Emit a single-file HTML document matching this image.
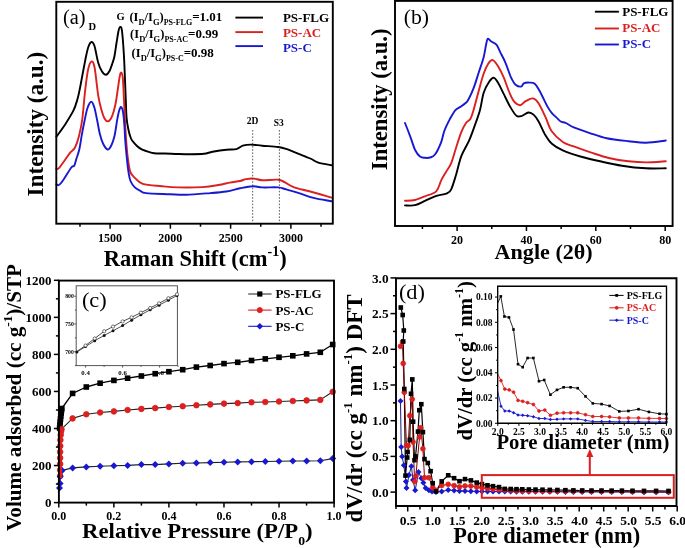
<!DOCTYPE html>
<html><head><meta charset="utf-8"><style>
html,body{margin:0;padding:0;background:#fff;width:685px;height:548px;overflow:hidden}
svg{display:block;font-family:"Liberation Serif", serif;will-change:transform}
</style></head><body>
<svg width="685" height="548" viewBox="0 0 685 548">
<rect width="685" height="548" fill="#fff"/>
<path d="M56.4,136.7 C57.8,134.8 61.9,129.4 64.8,125.0 C67.6,120.6 71.4,114.7 73.5,110.4 C75.6,106.1 76.4,102.7 77.5,99.0 C78.6,95.3 79.1,92.5 80.0,88.0 C80.9,83.5 82.0,77.2 83.0,72.0 C84.0,66.8 85.1,60.8 86.0,56.5 C86.9,52.2 87.6,48.9 88.5,46.5 C89.4,44.1 90.5,42.1 91.5,42.0 C92.5,41.9 93.4,42.5 94.5,46.0 C95.6,49.5 97.0,58.8 98.3,63.0 C99.5,67.2 100.7,69.5 102.0,71.5 C103.3,73.5 104.7,74.9 105.9,74.8 C107.2,74.7 108.4,73.0 109.5,71.0 C110.6,69.0 111.7,65.4 112.5,63.0 C113.3,60.6 113.7,59.8 114.4,56.5 C115.1,53.2 115.8,47.2 116.5,43.0 C117.2,38.8 117.9,33.7 118.5,31.0 C119.1,28.3 119.6,27.0 120.2,27.0 C120.8,27.0 121.4,26.3 122.0,31.0 C122.6,35.7 123.4,46.8 123.9,55.0 C124.4,63.2 124.7,72.5 125.0,80.0 C125.3,87.5 125.5,93.7 125.8,100.0 C126.1,106.3 126.1,113.0 126.6,118.0 C127.0,123.0 127.8,126.6 128.5,130.0 C129.2,133.4 130.1,136.4 131.0,138.5 C131.9,140.6 132.6,141.2 134.0,142.8 C135.4,144.4 137.6,146.7 139.6,148.1 C141.6,149.5 143.6,150.2 146.0,151.0 C148.4,151.8 150.9,152.8 154.1,153.2 C157.3,153.6 161.0,153.4 165.0,153.5 C169.0,153.6 173.9,153.9 178.2,154.0 C182.5,154.1 186.7,154.2 191.0,154.2 C195.3,154.2 200.4,154.2 204.0,153.8 C207.6,153.4 208.8,152.5 212.5,151.8 C216.2,151.1 222.4,150.1 226.4,149.7 C230.4,149.3 233.7,149.9 236.4,149.2 C239.1,148.5 240.4,146.5 242.8,145.7 C245.2,144.9 247.7,144.6 250.9,144.6 C254.1,144.6 257.6,145.3 262.1,145.7 C266.7,146.1 274.2,146.5 278.2,147.0 C282.2,147.5 283.0,147.8 286.2,148.9 C289.4,150.0 293.4,151.8 297.4,153.4 C301.4,155.0 306.8,157.0 310.3,158.5 C313.8,160.0 314.8,161.5 318.3,162.6 C321.8,163.7 329.3,164.8 331.5,165.2" fill="none" stroke="#000" stroke-width="1.9" stroke-linejoin="round" stroke-linecap="round" />
<path d="M56.4,168.7 C56.8,168.6 57.5,169.6 58.9,168.2 C60.3,166.8 62.8,162.9 64.8,160.2 C66.8,157.5 68.9,154.3 70.6,152.2 C72.3,150.1 73.6,150.2 75.0,147.5 C76.4,144.8 77.8,140.7 79.0,136.0 C80.2,131.3 81.3,126.9 82.3,119.2 C83.3,111.5 84.2,98.2 85.2,90.0 C86.2,81.8 87.0,74.7 88.0,70.0 C89.0,65.3 90.2,62.1 91.3,61.6 C92.4,61.1 93.3,61.3 94.5,67.0 C95.7,72.7 97.1,88.8 98.3,96.0 C99.5,103.2 100.5,106.2 101.5,110.0 C102.5,113.8 103.5,116.6 104.5,118.5 C105.5,120.4 106.7,121.4 107.8,121.4 C108.9,121.4 110.0,120.2 111.0,118.5 C112.0,116.8 113.0,113.8 113.8,111.0 C114.6,108.2 115.2,105.8 115.9,102.0 C116.6,98.2 117.3,92.3 118.0,88.0 C118.7,83.7 119.2,78.6 119.8,76.0 C120.3,73.4 120.8,72.3 121.3,72.6 C121.8,72.9 122.4,73.8 122.8,78.0 C123.2,82.2 123.5,90.2 123.9,98.0 C124.3,105.8 124.7,116.6 125.2,125.0 C125.7,133.4 126.2,142.1 126.8,148.4 C127.3,154.7 127.9,159.0 128.5,163.0 C129.1,167.0 129.4,170.0 130.5,172.5 C131.6,175.0 132.8,175.9 134.8,177.8 C136.9,179.7 138.2,182.5 142.8,183.9 C147.4,185.3 156.2,185.6 162.1,186.2 C168.0,186.8 171.5,187.2 178.2,187.4 C184.9,187.6 195.6,187.5 202.3,187.1 C209.0,186.7 213.7,185.8 218.3,185.0 C222.9,184.2 226.4,183.3 230.0,182.6 C233.6,181.9 237.3,181.6 240.0,181.0 C242.7,180.4 243.8,179.5 246.1,179.1 C248.4,178.7 251.4,178.4 254.1,178.6 C256.8,178.8 258.1,180.0 262.1,180.2 C266.1,180.4 274.4,179.4 278.2,179.7 C281.9,180.0 281.9,180.9 284.6,182.2 C287.3,183.5 289.9,185.8 294.2,187.4 C298.5,189.0 304.1,189.8 310.3,191.5 C316.5,193.2 328.0,196.6 331.5,197.6" fill="none" stroke="#dc1f1f" stroke-width="1.9" stroke-linejoin="round" stroke-linecap="round" />
<path d="M56.4,184.3 C56.8,184.4 57.8,185.7 58.9,185.0 C60.0,184.3 61.2,182.9 63.3,180.0 C65.4,177.1 69.5,169.9 71.3,167.5 C73.1,165.1 73.3,167.2 74.2,165.8 C75.1,164.4 75.5,161.6 76.4,158.8 C77.3,156.0 78.6,152.7 79.4,149.0 C80.2,145.3 80.7,141.4 81.5,136.7 C82.3,132.0 83.5,125.8 84.5,121.0 C85.5,116.2 86.4,111.2 87.5,108.0 C88.6,104.8 90.1,101.7 91.3,101.7 C92.5,101.7 93.5,104.6 94.5,108.0 C95.5,111.4 96.6,117.7 97.5,122.0 C98.4,126.3 98.9,130.2 99.8,133.8 C100.7,137.4 101.7,140.9 103.0,143.5 C104.3,146.1 106.4,149.3 107.8,149.6 C109.2,149.8 110.4,147.3 111.5,145.0 C112.6,142.7 113.5,140.3 114.5,136.0 C115.5,131.7 116.5,123.6 117.3,119.2 C118.1,114.8 118.8,111.5 119.5,109.5 C120.2,107.5 120.8,106.6 121.4,107.2 C122.0,107.8 122.7,109.7 123.2,113.0 C123.7,116.3 124.2,122.3 124.5,127.0 C124.8,131.7 124.9,135.9 125.3,141.1 C125.7,146.3 126.3,152.8 126.8,158.0 C127.3,163.2 127.9,168.2 128.5,172.0 C129.1,175.8 129.4,178.4 130.5,181.0 C131.6,183.6 133.2,185.8 134.8,187.4 C136.4,189.0 138.1,189.7 140.0,190.6 C141.9,191.5 141.1,192.5 146.1,193.1 C151.1,193.7 163.4,193.9 170.1,194.2 C176.8,194.5 179.5,194.9 186.2,194.7 C192.9,194.5 203.6,193.6 210.3,193.1 C217.0,192.6 221.5,192.3 226.4,191.5 C231.3,190.7 235.7,189.2 240.0,188.3 C244.3,187.4 248.8,186.3 252.5,186.2 C256.2,186.0 257.8,187.2 262.1,187.4 C266.4,187.6 274.2,187.1 278.2,187.4 C282.2,187.7 282.7,188.5 286.2,189.4 C289.7,190.3 294.4,191.7 299.0,193.1 C303.6,194.5 308.1,196.5 313.5,197.9 C318.9,199.3 328.5,200.7 331.5,201.3" fill="none" stroke="#1818d2" stroke-width="1.9" stroke-linejoin="round" stroke-linecap="round" />
<line x1="252.7" y1="130" x2="252.7" y2="222.5" stroke="#333" stroke-width="0.8" stroke-dasharray="1.6,1.6"/>
<line x1="279.4" y1="130" x2="279.4" y2="222.5" stroke="#333" stroke-width="0.8" stroke-dasharray="1.6,1.6"/>
<text x="252.6" y="123.6" font-size="9.5" font-weight="bold" text-anchor="middle" fill="#000" >2D</text>
<text x="278.8" y="126.4" font-size="9.5" font-weight="bold" text-anchor="middle" fill="#000" >S3</text>
<rect x="56.3" y="1.8" width="276.5" height="221.89999999999998" fill="none" stroke="#000" stroke-width="1.9"/>
<line x1="110.1" y1="223.7" x2="110.1" y2="228.7" stroke="#000" stroke-width="1.5" />
<text x="110.1" y="241.8" font-size="12" font-weight="bold" text-anchor="middle" fill="#000" >1500</text>
<line x1="170.365" y1="223.7" x2="170.365" y2="228.7" stroke="#000" stroke-width="1.5" />
<text x="170.365" y="241.8" font-size="12" font-weight="bold" text-anchor="middle" fill="#000" >2000</text>
<line x1="230.63" y1="223.7" x2="230.63" y2="228.7" stroke="#000" stroke-width="1.5" />
<text x="230.63" y="241.8" font-size="12" font-weight="bold" text-anchor="middle" fill="#000" >2500</text>
<line x1="290.895" y1="223.7" x2="290.895" y2="228.7" stroke="#000" stroke-width="1.5" />
<text x="290.895" y="241.8" font-size="12" font-weight="bold" text-anchor="middle" fill="#000" >3000</text>
<line x1="79.9675" y1="223.7" x2="79.9675" y2="226.7" stroke="#000" stroke-width="1.5" />
<line x1="140.2325" y1="223.7" x2="140.2325" y2="226.7" stroke="#000" stroke-width="1.5" />
<line x1="200.4975" y1="223.7" x2="200.4975" y2="226.7" stroke="#000" stroke-width="1.5" />
<line x1="260.7625" y1="223.7" x2="260.7625" y2="226.7" stroke="#000" stroke-width="1.5" />
<line x1="321.02750000000003" y1="223.7" x2="321.02750000000003" y2="226.7" stroke="#000" stroke-width="1.5" />
<text x="103.8" y="266" font-size="22.4" font-weight="bold" textLength="183" lengthAdjust="spacingAndGlyphs">Raman Shift (cm<tspan font-size="14" dy="-10">-1</tspan><tspan dy="10">)</tspan></text>
<text transform="translate(42.9,196.4) rotate(-90)" font-size="23" font-weight="bold" textLength="144.6" lengthAdjust="spacingAndGlyphs">Intensity (a.u.)</text>
<text x="63.0" y="23.8" font-size="20.5" font-weight="normal" text-anchor="start" fill="#000" textLength="22.6" lengthAdjust="spacingAndGlyphs" >(a)</text>
<text x="88.5" y="29.8" font-size="10.5" font-weight="bold" text-anchor="start" fill="#000" >D</text>
<text x="116.4" y="20.3" font-size="10.5" font-weight="bold" text-anchor="start" fill="#000" >G</text>
<text x="129.4" y="21" font-size="12.5" font-weight="bold">(I<tspan font-size="8.5" dy="3.5">D</tspan><tspan dy="-3.5">/I</tspan><tspan font-size="8.5" dy="3.5">G</tspan><tspan dy="-3.5">)</tspan><tspan font-size="8" dy="4">PS-FLG</tspan><tspan dy="-4" font-size="13">=1.01</tspan></text>
<text x="130.1" y="38.3" font-size="12.5" font-weight="bold">(I<tspan font-size="8.5" dy="3.5">D</tspan><tspan dy="-3.5">/I</tspan><tspan font-size="8.5" dy="3.5">G</tspan><tspan dy="-3.5">)</tspan><tspan font-size="8" dy="4">PS-AC</tspan><tspan dy="-4" font-size="13">=0.99</tspan></text>
<text x="131.6" y="57.3" font-size="12.5" font-weight="bold">(I<tspan font-size="8.5" dy="3.5">D</tspan><tspan dy="-3.5">/I</tspan><tspan font-size="8.5" dy="3.5">G</tspan><tspan dy="-3.5">)</tspan><tspan font-size="8" dy="4">PS-C</tspan><tspan dy="-4" font-size="13">=0.98</tspan></text>
<line x1="235.4" y1="17.6" x2="263" y2="17.6" stroke="#000" stroke-width="1.9" />
<text x="282.9" y="21.9" font-size="13" font-weight="bold" text-anchor="start" fill="#000" >PS-FLG</text>
<line x1="235.4" y1="32.1" x2="263" y2="32.1" stroke="#dc1f1f" stroke-width="1.9" />
<text x="282.9" y="37.2" font-size="13" font-weight="bold" text-anchor="start" fill="#dc1f1f" >PS-AC</text>
<line x1="235.4" y1="46.1" x2="263" y2="46.1" stroke="#1818d2" stroke-width="1.9" />
<text x="282.9" y="51.75" font-size="13" font-weight="bold" text-anchor="start" fill="#1818d2" >PS-C</text>
<path d="M405.0,205.4 C406.7,205.4 411.7,206.0 415.0,205.2 C418.3,204.4 421.7,202.3 425.0,200.8 C428.3,199.3 431.3,197.6 435.0,196.3 C438.7,195.1 444.3,194.5 447.0,193.3 C449.7,192.1 449.7,192.4 451.2,189.3 C452.7,186.2 454.3,180.5 456.0,175.0 C457.7,169.5 459.1,162.0 461.3,156.2 C463.5,150.4 467.0,145.4 469.3,140.1 C471.6,134.8 473.5,129.1 475.3,124.1 C477.1,119.1 478.6,115.2 480.0,110.0 C481.4,104.8 482.1,97.7 483.6,93.0 C485.1,88.3 487.3,84.5 489.0,82.0 C490.7,79.5 492.2,77.6 493.7,77.8 C495.2,78.0 496.5,80.2 498.2,82.9 C499.9,85.6 501.7,90.0 503.7,93.9 C505.7,97.9 508.0,102.9 510.1,106.6 C512.2,110.2 514.5,114.3 516.5,115.8 C518.5,117.3 520.0,116.3 522.0,115.8 C524.0,115.2 526.4,112.7 528.4,112.5 C530.4,112.3 532.1,113.4 533.8,114.9 C535.5,116.4 536.7,118.2 538.6,121.5 C540.5,124.8 543.1,131.3 545.3,135.0 C547.5,138.7 549.0,141.2 551.9,143.8 C554.8,146.4 558.0,148.3 562.8,150.4 C567.5,152.5 574.2,154.7 580.4,156.5 C586.6,158.3 593.2,159.8 600.1,161.3 C607.0,162.8 614.4,164.5 622.0,165.7 C629.6,166.9 638.7,167.9 646.0,168.3 C653.3,168.7 662.5,168.3 665.8,168.3" fill="none" stroke="#000" stroke-width="1.9" stroke-linejoin="round" stroke-linecap="round" />
<path d="M405.0,200.8 C406.7,200.7 411.7,200.8 415.0,200.0 C418.3,199.2 421.5,197.8 425.0,196.3 C428.5,194.9 433.5,194.0 436.2,191.3 C438.9,188.6 439.6,183.5 441.2,180.3 C442.8,177.1 444.3,174.8 446.0,172.0 C447.7,169.2 449.5,167.2 451.2,163.2 C452.9,159.2 454.3,153.2 456.0,148.0 C457.7,142.8 459.6,136.3 461.3,132.1 C463.0,127.9 464.5,125.2 466.0,123.0 C467.5,120.8 469.1,121.1 470.3,119.0 C471.6,116.9 472.1,115.1 473.5,110.3 C474.9,105.5 477.2,96.3 478.9,90.2 C480.6,84.1 482.1,78.2 483.6,73.8 C485.2,69.4 486.7,66.1 488.2,63.8 C489.7,61.5 491.1,59.6 492.8,60.1 C494.5,60.6 496.4,63.6 498.2,66.5 C500.0,69.4 501.9,73.2 503.7,77.4 C505.5,81.7 507.5,88.0 509.2,92.0 C510.9,96.0 512.0,99.0 513.8,101.2 C515.6,103.4 518.1,105.2 520.1,105.2 C522.1,105.2 523.5,102.3 525.6,101.2 C527.7,100.1 530.8,98.1 532.9,98.4 C535.0,98.7 536.3,99.8 538.4,103.0 C540.5,106.2 543.5,112.9 545.7,117.6 C547.9,122.3 548.6,126.9 551.5,131.0 C554.4,135.1 559.1,139.4 562.8,142.0 C566.5,144.6 569.0,144.6 573.8,146.4 C578.5,148.2 585.5,150.7 591.3,152.6 C597.1,154.5 602.6,156.6 608.8,158.0 C615.0,159.4 622.3,160.6 628.5,161.3 C634.7,162.0 639.8,162.4 646.0,162.4 C652.2,162.4 662.5,161.5 665.8,161.3" fill="none" stroke="#dc1f1f" stroke-width="1.9" stroke-linejoin="round" stroke-linecap="round" />
<path d="M405.0,123.0 C405.9,125.2 408.4,131.6 410.1,136.1 C411.8,140.6 413.5,146.6 415.1,150.0 C416.8,153.4 418.3,155.2 420.0,156.5 C421.7,157.8 423.4,157.6 425.1,157.8 C426.8,158.0 428.3,158.1 430.0,157.5 C431.7,156.9 433.3,156.8 435.2,154.2 C437.1,151.6 439.7,146.0 441.2,142.1 C442.7,138.2 442.9,134.8 444.3,131.0 C445.7,127.2 447.9,122.9 449.7,119.4 C451.5,116.0 453.4,112.4 455.2,110.3 C457.0,108.2 459.1,107.7 460.7,106.6 C462.3,105.5 463.8,104.5 465.0,103.5 C466.2,102.5 466.6,102.8 468.0,100.3 C469.4,97.8 471.7,93.1 473.5,88.4 C475.3,83.7 477.2,77.2 478.9,72.0 C480.6,66.8 482.4,61.9 483.6,57.4 C484.8,52.9 485.3,48.1 486.0,45.0 C486.7,41.9 486.9,39.4 487.7,38.8 C488.5,38.2 489.6,40.3 491.0,41.3 C492.4,42.3 494.9,42.8 496.4,44.6 C497.9,46.4 498.6,48.9 500.1,51.9 C501.6,54.9 503.7,58.5 505.5,62.8 C507.3,67.0 509.3,73.8 511.0,77.4 C512.7,81.1 513.9,83.2 515.6,84.7 C517.3,86.2 519.7,86.8 521.1,86.6 C522.5,86.4 522.4,84.0 523.8,83.3 C525.2,82.6 527.5,82.5 529.3,82.6 C531.1,82.7 532.9,82.2 534.7,83.8 C536.5,85.4 538.1,88.2 540.2,92.0 C542.3,95.8 545.5,103.1 547.5,106.6 C549.5,110.1 550.4,111.3 551.9,113.1 C553.4,114.9 555.1,116.2 556.6,117.6 C558.1,119.0 559.2,120.6 560.7,121.5 C562.2,122.4 563.6,122.0 565.8,123.0 C568.0,124.0 569.9,125.8 573.8,127.4 C577.7,129.0 583.6,131.0 589.1,132.8 C594.6,134.6 600.0,136.9 606.6,138.3 C613.2,139.7 621.9,140.5 628.5,141.2 C635.1,141.9 639.8,142.8 646.0,142.7 C652.2,142.6 662.5,140.9 665.8,140.5" fill="none" stroke="#1818d2" stroke-width="1.9" stroke-linejoin="round" stroke-linecap="round" />
<rect x="395.0" y="0.9" width="277.6" height="225.1" fill="none" stroke="#000" stroke-width="1.9"/>
<line x1="457.1" y1="226.0" x2="457.1" y2="231.0" stroke="#000" stroke-width="1.5" />
<text x="457.1" y="243.6" font-size="12" font-weight="bold" text-anchor="middle" fill="#000" >20</text>
<line x1="526.46" y1="226.0" x2="526.46" y2="231.0" stroke="#000" stroke-width="1.5" />
<text x="526.46" y="243.6" font-size="12" font-weight="bold" text-anchor="middle" fill="#000" >40</text>
<line x1="595.8199999999999" y1="226.0" x2="595.8199999999999" y2="231.0" stroke="#000" stroke-width="1.5" />
<text x="595.8199999999999" y="243.6" font-size="12" font-weight="bold" text-anchor="middle" fill="#000" >60</text>
<line x1="665.1800000000001" y1="226.0" x2="665.1800000000001" y2="231.0" stroke="#000" stroke-width="1.5" />
<text x="665.1800000000001" y="243.6" font-size="12" font-weight="bold" text-anchor="middle" fill="#000" >80</text>
<line x1="422.42" y1="226.0" x2="422.42" y2="229.0" stroke="#000" stroke-width="1.5" />
<line x1="491.78" y1="226.0" x2="491.78" y2="229.0" stroke="#000" stroke-width="1.5" />
<line x1="561.14" y1="226.0" x2="561.14" y2="229.0" stroke="#000" stroke-width="1.5" />
<line x1="630.5" y1="226.0" x2="630.5" y2="229.0" stroke="#000" stroke-width="1.5" />
<text x="494.6" y="258.9" font-size="22" font-weight="bold" text-anchor="start" fill="#000" textLength="98.1" lengthAdjust="spacingAndGlyphs" >Angle (2θ)</text>
<text transform="translate(386.9,170.2) rotate(-90)" font-size="22.5" font-weight="bold" textLength="141.8" lengthAdjust="spacingAndGlyphs">Intensity (a.u.)</text>
<text x="403.8" y="24.1" font-size="20.5" font-weight="normal" text-anchor="start" fill="#000" textLength="25.3" lengthAdjust="spacingAndGlyphs" >(b)</text>
<line x1="594.9" y1="11.7" x2="618.9" y2="11.7" stroke="#000" stroke-width="1.9" />
<text x="622.2" y="15.8" font-size="13" font-weight="bold" text-anchor="start" fill="#000" >PS-FLG</text>
<line x1="594.9" y1="28.5" x2="618.9" y2="28.5" stroke="#dc1f1f" stroke-width="1.9" />
<text x="622.2" y="32.1" font-size="13" font-weight="bold" text-anchor="start" fill="#dc1f1f" >PS-AC</text>
<line x1="594.9" y1="44.5" x2="618.9" y2="44.5" stroke="#1818d2" stroke-width="1.9" />
<text x="622.2" y="48.2" font-size="13" font-weight="bold" text-anchor="start" fill="#1818d2" >PS-C</text>
<polyline points="59.6,428.0 59.9,425.0 60.2,422.0 60.5,419.0 60.8,416.0 61.2,413.0 61.5,410.5 61.8,408.5 72.6,393.4 86.3,387.0 100.1,383.2 113.9,380.4 127.6,378.2 141.4,376.0 155.2,373.7 168.9,371.7 182.7,369.7 196.4,367.1 210.2,365.5 224.0,363.6 237.7,362.3 251.5,360.5 265.3,358.9 279.0,357.3 292.8,355.8 306.6,353.9 320.3,352.3 332.7,344.5" fill="none" stroke="#000" stroke-width="1.3" stroke-linejoin="round" stroke-linecap="round" />
<polyline points="60.2,476.0 60.2,470.0 60.2,464.0 60.2,458.0 60.2,452.0 60.3,446.0 60.4,440.0 60.7,435.0 61.1,431.5 61.5,429.2 72.6,418.4 86.3,414.3 100.1,412.5 113.9,411.4 127.6,410.0 141.4,408.9 155.2,408.1 168.9,407.0 182.7,406.2 196.4,405.2 210.2,404.4 224.0,403.6 237.7,403.1 251.5,402.3 265.3,402.0 279.0,401.5 292.8,401.0 306.6,400.4 320.3,399.9 332.7,391.8" fill="none" stroke="#222" stroke-width="1.1" stroke-linejoin="round" stroke-linecap="round" />
<polyline points="59.5,487.9 60.1,483.4 60.1,476.4 62.1,470.4 72.6,467.9 86.3,466.9 100.1,466.2 113.9,465.8 127.6,465.4 141.4,464.6 155.2,464.6 168.9,463.9 182.7,463.3 196.4,463.0 210.2,462.6 224.0,462.3 237.7,461.9 251.5,461.7 265.3,461.5 279.0,461.2 292.8,461.0 306.6,461.0 320.3,460.8 332.7,458.6" fill="none" stroke="#222" stroke-width="1.1" stroke-linejoin="round" stroke-linecap="round" />
<rect x="56.8" y="425.2" width="5.6" height="5.6" fill="#000"/>
<rect x="57.1" y="422.2" width="5.6" height="5.6" fill="#000"/>
<rect x="57.4" y="419.2" width="5.6" height="5.6" fill="#000"/>
<rect x="57.7" y="416.2" width="5.6" height="5.6" fill="#000"/>
<rect x="58.0" y="413.2" width="5.6" height="5.6" fill="#000"/>
<rect x="58.4" y="410.2" width="5.6" height="5.6" fill="#000"/>
<rect x="58.7" y="407.7" width="5.6" height="5.6" fill="#000"/>
<rect x="59.0" y="405.7" width="5.6" height="5.6" fill="#000"/>
<rect x="69.8" y="390.6" width="5.6" height="5.6" fill="#000"/>
<rect x="83.5" y="384.2" width="5.6" height="5.6" fill="#000"/>
<rect x="97.3" y="380.4" width="5.6" height="5.6" fill="#000"/>
<rect x="111.1" y="377.6" width="5.6" height="5.6" fill="#000"/>
<rect x="124.8" y="375.4" width="5.6" height="5.6" fill="#000"/>
<rect x="138.6" y="373.2" width="5.6" height="5.6" fill="#000"/>
<rect x="152.4" y="370.9" width="5.6" height="5.6" fill="#000"/>
<rect x="166.1" y="368.9" width="5.6" height="5.6" fill="#000"/>
<rect x="179.9" y="366.9" width="5.6" height="5.6" fill="#000"/>
<rect x="193.6" y="364.3" width="5.6" height="5.6" fill="#000"/>
<rect x="207.4" y="362.7" width="5.6" height="5.6" fill="#000"/>
<rect x="221.2" y="360.8" width="5.6" height="5.6" fill="#000"/>
<rect x="234.9" y="359.5" width="5.6" height="5.6" fill="#000"/>
<rect x="248.7" y="357.7" width="5.6" height="5.6" fill="#000"/>
<rect x="262.5" y="356.1" width="5.6" height="5.6" fill="#000"/>
<rect x="276.2" y="354.5" width="5.6" height="5.6" fill="#000"/>
<rect x="290.0" y="353.0" width="5.6" height="5.6" fill="#000"/>
<rect x="303.8" y="351.1" width="5.6" height="5.6" fill="#000"/>
<rect x="317.5" y="349.5" width="5.6" height="5.6" fill="#000"/>
<rect x="329.9" y="341.7" width="5.6" height="5.6" fill="#000"/>
<circle cx="60.2" cy="476.0" r="2.8" fill="#dc1f1f" stroke="#dc1f1f" stroke-width="0.8"/>
<circle cx="60.2" cy="470.0" r="2.8" fill="#dc1f1f" stroke="#dc1f1f" stroke-width="0.8"/>
<circle cx="60.2" cy="464.0" r="2.8" fill="#dc1f1f" stroke="#dc1f1f" stroke-width="0.8"/>
<circle cx="60.2" cy="458.0" r="2.8" fill="#dc1f1f" stroke="#dc1f1f" stroke-width="0.8"/>
<circle cx="60.2" cy="452.0" r="2.8" fill="#dc1f1f" stroke="#dc1f1f" stroke-width="0.8"/>
<circle cx="60.3" cy="446.0" r="2.8" fill="#dc1f1f" stroke="#dc1f1f" stroke-width="0.8"/>
<circle cx="60.4" cy="440.0" r="2.8" fill="#dc1f1f" stroke="#dc1f1f" stroke-width="0.8"/>
<circle cx="60.7" cy="435.0" r="2.8" fill="#dc1f1f" stroke="#dc1f1f" stroke-width="0.8"/>
<circle cx="61.1" cy="431.5" r="2.8" fill="#dc1f1f" stroke="#dc1f1f" stroke-width="0.8"/>
<circle cx="61.5" cy="429.2" r="2.8" fill="#dc1f1f" stroke="#dc1f1f" stroke-width="0.8"/>
<circle cx="72.6" cy="418.4" r="2.8" fill="#dc1f1f" stroke="#dc1f1f" stroke-width="0.8"/>
<circle cx="86.3" cy="414.3" r="2.8" fill="#dc1f1f" stroke="#dc1f1f" stroke-width="0.8"/>
<circle cx="100.1" cy="412.5" r="2.8" fill="#dc1f1f" stroke="#dc1f1f" stroke-width="0.8"/>
<circle cx="113.9" cy="411.4" r="2.8" fill="#dc1f1f" stroke="#dc1f1f" stroke-width="0.8"/>
<circle cx="127.6" cy="410.0" r="2.8" fill="#dc1f1f" stroke="#dc1f1f" stroke-width="0.8"/>
<circle cx="141.4" cy="408.9" r="2.8" fill="#dc1f1f" stroke="#dc1f1f" stroke-width="0.8"/>
<circle cx="155.2" cy="408.1" r="2.8" fill="#dc1f1f" stroke="#dc1f1f" stroke-width="0.8"/>
<circle cx="168.9" cy="407.0" r="2.8" fill="#dc1f1f" stroke="#dc1f1f" stroke-width="0.8"/>
<circle cx="182.7" cy="406.2" r="2.8" fill="#dc1f1f" stroke="#dc1f1f" stroke-width="0.8"/>
<circle cx="196.4" cy="405.2" r="2.8" fill="#dc1f1f" stroke="#dc1f1f" stroke-width="0.8"/>
<circle cx="210.2" cy="404.4" r="2.8" fill="#dc1f1f" stroke="#dc1f1f" stroke-width="0.8"/>
<circle cx="224.0" cy="403.6" r="2.8" fill="#dc1f1f" stroke="#dc1f1f" stroke-width="0.8"/>
<circle cx="237.7" cy="403.1" r="2.8" fill="#dc1f1f" stroke="#dc1f1f" stroke-width="0.8"/>
<circle cx="251.5" cy="402.3" r="2.8" fill="#dc1f1f" stroke="#dc1f1f" stroke-width="0.8"/>
<circle cx="265.3" cy="402.0" r="2.8" fill="#dc1f1f" stroke="#dc1f1f" stroke-width="0.8"/>
<circle cx="279.0" cy="401.5" r="2.8" fill="#dc1f1f" stroke="#dc1f1f" stroke-width="0.8"/>
<circle cx="292.8" cy="401.0" r="2.8" fill="#dc1f1f" stroke="#dc1f1f" stroke-width="0.8"/>
<circle cx="306.6" cy="400.4" r="2.8" fill="#dc1f1f" stroke="#dc1f1f" stroke-width="0.8"/>
<circle cx="320.3" cy="399.9" r="2.8" fill="#dc1f1f" stroke="#dc1f1f" stroke-width="0.8"/>
<circle cx="332.7" cy="391.8" r="2.8" fill="#dc1f1f" stroke="#dc1f1f" stroke-width="0.8"/>
<path d="M59.5,484.4 L63.0,487.9 L59.5,491.4 L56.0,487.9Z" fill="#1818d2"/>
<path d="M60.1,479.9 L63.6,483.4 L60.1,486.9 L56.6,483.4Z" fill="#1818d2"/>
<path d="M60.1,472.9 L63.6,476.4 L60.1,479.9 L56.6,476.4Z" fill="#1818d2"/>
<path d="M62.1,466.9 L65.6,470.4 L62.1,473.9 L58.6,470.4Z" fill="#1818d2"/>
<path d="M72.6,464.4 L76.1,467.9 L72.6,471.4 L69.1,467.9Z" fill="#1818d2"/>
<path d="M86.3,463.4 L89.8,466.9 L86.3,470.4 L82.8,466.9Z" fill="#1818d2"/>
<path d="M100.1,462.7 L103.6,466.2 L100.1,469.7 L96.6,466.2Z" fill="#1818d2"/>
<path d="M113.9,462.3 L117.4,465.8 L113.9,469.3 L110.4,465.8Z" fill="#1818d2"/>
<path d="M127.6,461.9 L131.1,465.4 L127.6,468.9 L124.1,465.4Z" fill="#1818d2"/>
<path d="M141.4,461.1 L144.9,464.6 L141.4,468.1 L137.9,464.6Z" fill="#1818d2"/>
<path d="M155.2,461.1 L158.7,464.6 L155.2,468.1 L151.7,464.6Z" fill="#1818d2"/>
<path d="M168.9,460.4 L172.4,463.9 L168.9,467.4 L165.4,463.9Z" fill="#1818d2"/>
<path d="M182.7,459.8 L186.2,463.3 L182.7,466.8 L179.2,463.3Z" fill="#1818d2"/>
<path d="M196.4,459.5 L199.9,463.0 L196.4,466.5 L192.9,463.0Z" fill="#1818d2"/>
<path d="M210.2,459.1 L213.7,462.6 L210.2,466.1 L206.7,462.6Z" fill="#1818d2"/>
<path d="M224.0,458.8 L227.5,462.3 L224.0,465.8 L220.5,462.3Z" fill="#1818d2"/>
<path d="M237.7,458.4 L241.2,461.9 L237.7,465.4 L234.2,461.9Z" fill="#1818d2"/>
<path d="M251.5,458.2 L255.0,461.7 L251.5,465.2 L248.0,461.7Z" fill="#1818d2"/>
<path d="M265.3,458.0 L268.8,461.5 L265.3,465.0 L261.8,461.5Z" fill="#1818d2"/>
<path d="M279.0,457.7 L282.5,461.2 L279.0,464.7 L275.5,461.2Z" fill="#1818d2"/>
<path d="M292.8,457.5 L296.3,461.0 L292.8,464.5 L289.3,461.0Z" fill="#1818d2"/>
<path d="M306.6,457.5 L310.1,461.0 L306.6,464.5 L303.1,461.0Z" fill="#1818d2"/>
<path d="M320.3,457.3 L323.8,460.8 L320.3,464.3 L316.8,460.8Z" fill="#1818d2"/>
<path d="M332.7,455.1 L336.2,458.6 L332.7,462.1 L329.2,458.6Z" fill="#1818d2"/>
<line x1="60.3" y1="432" x2="60.3" y2="478" stroke="#dc1f1f" stroke-width="3.4" />
<rect x="58.9" y="280.6" width="275.1" height="222.0" fill="none" stroke="#000" stroke-width="1.9"/>
<line x1="53.9" y1="502.6" x2="58.9" y2="502.6" stroke="#000" stroke-width="1.5" />
<text x="51.5" y="507.0" font-size="13" font-weight="bold" text-anchor="end" fill="#000" >0</text>
<line x1="53.9" y1="465.55" x2="58.9" y2="465.55" stroke="#000" stroke-width="1.5" />
<text x="51.5" y="469.95" font-size="13" font-weight="bold" text-anchor="end" fill="#000" >200</text>
<line x1="53.9" y1="428.5" x2="58.9" y2="428.5" stroke="#000" stroke-width="1.5" />
<text x="51.5" y="432.9" font-size="13" font-weight="bold" text-anchor="end" fill="#000" >400</text>
<line x1="53.9" y1="391.45000000000005" x2="58.9" y2="391.45000000000005" stroke="#000" stroke-width="1.5" />
<text x="51.5" y="395.85" font-size="13" font-weight="bold" text-anchor="end" fill="#000" >600</text>
<line x1="53.9" y1="354.40000000000003" x2="58.9" y2="354.40000000000003" stroke="#000" stroke-width="1.5" />
<text x="51.5" y="358.8" font-size="13" font-weight="bold" text-anchor="end" fill="#000" >800</text>
<line x1="53.9" y1="317.35" x2="58.9" y2="317.35" stroke="#000" stroke-width="1.5" />
<text x="51.5" y="321.75" font-size="13" font-weight="bold" text-anchor="end" fill="#000" >1000</text>
<line x1="53.9" y1="280.3" x2="58.9" y2="280.3" stroke="#000" stroke-width="1.5" />
<text x="51.5" y="284.7" font-size="13" font-weight="bold" text-anchor="end" fill="#000" >1200</text>
<line x1="55.9" y1="484.07500000000005" x2="58.9" y2="484.07500000000005" stroke="#000" stroke-width="1.5" />
<line x1="55.9" y1="447.02500000000003" x2="58.9" y2="447.02500000000003" stroke="#000" stroke-width="1.5" />
<line x1="55.9" y1="409.975" x2="58.9" y2="409.975" stroke="#000" stroke-width="1.5" />
<line x1="55.9" y1="372.925" x2="58.9" y2="372.925" stroke="#000" stroke-width="1.5" />
<line x1="55.9" y1="335.875" x2="58.9" y2="335.875" stroke="#000" stroke-width="1.5" />
<line x1="55.9" y1="298.82500000000005" x2="58.9" y2="298.82500000000005" stroke="#000" stroke-width="1.5" />
<line x1="58.8" y1="502.6" x2="58.8" y2="507.6" stroke="#000" stroke-width="1.5" />
<text x="58.8" y="520.4" font-size="12" font-weight="bold" text-anchor="middle" fill="#000" >0.0</text>
<line x1="113.86" y1="502.6" x2="113.86" y2="507.6" stroke="#000" stroke-width="1.5" />
<text x="113.86" y="520.4" font-size="12" font-weight="bold" text-anchor="middle" fill="#000" >0.2</text>
<line x1="168.92000000000002" y1="502.6" x2="168.92000000000002" y2="507.6" stroke="#000" stroke-width="1.5" />
<text x="168.92000000000002" y="520.4" font-size="12" font-weight="bold" text-anchor="middle" fill="#000" >0.4</text>
<line x1="223.98000000000002" y1="502.6" x2="223.98000000000002" y2="507.6" stroke="#000" stroke-width="1.5" />
<text x="223.98000000000002" y="520.4" font-size="12" font-weight="bold" text-anchor="middle" fill="#000" >0.6</text>
<line x1="279.04" y1="502.6" x2="279.04" y2="507.6" stroke="#000" stroke-width="1.5" />
<text x="279.04" y="520.4" font-size="12" font-weight="bold" text-anchor="middle" fill="#000" >0.8</text>
<line x1="334.1" y1="502.6" x2="334.1" y2="507.6" stroke="#000" stroke-width="1.5" />
<text x="334.1" y="520.4" font-size="12" font-weight="bold" text-anchor="middle" fill="#000" >1.0</text>
<line x1="86.33" y1="502.6" x2="86.33" y2="505.6" stroke="#000" stroke-width="1.5" />
<line x1="141.39000000000001" y1="502.6" x2="141.39000000000001" y2="505.6" stroke="#000" stroke-width="1.5" />
<line x1="196.45" y1="502.6" x2="196.45" y2="505.6" stroke="#000" stroke-width="1.5" />
<line x1="251.51000000000005" y1="502.6" x2="251.51000000000005" y2="505.6" stroke="#000" stroke-width="1.5" />
<line x1="306.57" y1="502.6" x2="306.57" y2="505.6" stroke="#000" stroke-width="1.5" />
<text x="82.1" y="537.6" font-size="21.5" font-weight="bold" textLength="230.5" lengthAdjust="spacingAndGlyphs">Relative Pressure (P/P<tspan font-size="13" dy="7">0</tspan><tspan dy="-7">)</tspan></text>
<text transform="translate(20.6,531) rotate(-90)" font-size="21" font-weight="bold" textLength="267" lengthAdjust="spacingAndGlyphs">Volume adsorbed (cc g<tspan font-size="13" dy="-9">-1</tspan><tspan dy="9">)/STP</tspan></text>
<line x1="248.2" y1="294" x2="271.6" y2="294" stroke="#333" stroke-width="1.1" />
<rect x="257.2" y="291.4" width="5.2" height="5.2" fill="#000"/>
<text x="275.4" y="298.4" font-size="13" font-weight="bold" text-anchor="start" fill="#000" >PS-FLG</text>
<line x1="248.2" y1="310.1" x2="271.6" y2="310.1" stroke="#dc1f1f" stroke-width="1.1" />
<circle cx="259.8" cy="310.1" r="2.6" fill="#dc1f1f" stroke="#dc1f1f" stroke-width="0.8"/>
<text x="275.4" y="314.5" font-size="13" font-weight="bold" text-anchor="start" fill="#000" >PS-AC</text>
<line x1="248.2" y1="326.3" x2="271.6" y2="326.3" stroke="#1818d2" stroke-width="1.1" />
<path d="M259.8,323.0 L263.1,326.3 L259.8,329.6 L256.5,326.3Z" fill="#1818d2"/>
<text x="275.4" y="330.7" font-size="13" font-weight="bold" text-anchor="start" fill="#000" >PS-C</text>
<rect x="76.2" y="285.8" width="101.2" height="79.80000000000001" fill="#fff" stroke="#555" stroke-width="1"/>
<polyline points="76.9,352.0 85.5,346.6 94.7,340.8 104.2,335.4 113.0,330.8 122.6,325.6 131.6,320.2 140.9,314.8 150.2,309.8 159.1,305.2 168.4,300.2 177.0,295.5" fill="none" stroke="#222" stroke-width="0.8" stroke-linejoin="round" stroke-linecap="round" />
<polyline points="76.9,351.5 85.5,345.5 94.7,338.5 104.2,331.2 113.0,326.6 122.6,321.4 131.6,317.3 140.9,312.6 150.2,308.0 159.1,303.3 168.4,298.2 177.0,294.3" fill="none" stroke="#222" stroke-width="0.8" stroke-linejoin="round" stroke-linecap="round" />
<circle cx="76.9" cy="352" r="1.5" fill="#111"/>
<circle cx="85.5" cy="346.6" r="1.5" fill="#111"/>
<circle cx="94.7" cy="340.8" r="1.5" fill="#111"/>
<circle cx="104.2" cy="335.4" r="1.5" fill="#111"/>
<circle cx="113" cy="330.8" r="1.5" fill="#111"/>
<circle cx="122.6" cy="325.6" r="1.5" fill="#111"/>
<circle cx="131.6" cy="320.2" r="1.5" fill="#111"/>
<circle cx="140.9" cy="314.8" r="1.5" fill="#111"/>
<circle cx="150.2" cy="309.8" r="1.5" fill="#111"/>
<circle cx="159.1" cy="305.2" r="1.5" fill="#111"/>
<circle cx="168.4" cy="300.2" r="1.5" fill="#111"/>
<circle cx="177" cy="295.5" r="1.5" fill="#111"/>
<circle cx="85.5" cy="345.5" r="1.6" fill="#fff" stroke="#222" stroke-width="0.6"/>
<circle cx="94.7" cy="338.5" r="1.6" fill="#fff" stroke="#222" stroke-width="0.6"/>
<circle cx="104.2" cy="331.2" r="1.6" fill="#fff" stroke="#222" stroke-width="0.6"/>
<circle cx="113" cy="326.6" r="1.6" fill="#fff" stroke="#222" stroke-width="0.6"/>
<circle cx="122.6" cy="321.4" r="1.6" fill="#fff" stroke="#222" stroke-width="0.6"/>
<circle cx="131.6" cy="317.3" r="1.6" fill="#fff" stroke="#222" stroke-width="0.6"/>
<circle cx="140.9" cy="312.6" r="1.6" fill="#fff" stroke="#222" stroke-width="0.6"/>
<circle cx="150.2" cy="308" r="1.6" fill="#fff" stroke="#222" stroke-width="0.6"/>
<circle cx="159.1" cy="303.3" r="1.6" fill="#fff" stroke="#222" stroke-width="0.6"/>
<circle cx="168.4" cy="298.2" r="1.6" fill="#fff" stroke="#222" stroke-width="0.6"/>
<circle cx="177" cy="294.3" r="1.6" fill="#fff" stroke="#222" stroke-width="0.6"/>
<line x1="74.2" y1="351.7" x2="76.2" y2="351.7" stroke="#333" stroke-width="0.8" />
<text x="73.8" y="353.5" font-size="6" font-weight="bold" text-anchor="end" fill="#000" textLength="8.6" lengthAdjust="spacingAndGlyphs" >700</text>
<line x1="74.2" y1="323.95" x2="76.2" y2="323.95" stroke="#333" stroke-width="0.8" />
<text x="73.8" y="325.75" font-size="6" font-weight="bold" text-anchor="end" fill="#000" textLength="8.6" lengthAdjust="spacingAndGlyphs" >750</text>
<line x1="74.2" y1="296.2" x2="76.2" y2="296.2" stroke="#333" stroke-width="0.8" />
<text x="73.8" y="298.0" font-size="6" font-weight="bold" text-anchor="end" fill="#000" textLength="8.6" lengthAdjust="spacingAndGlyphs" >800</text>
<line x1="74.9" y1="365.575" x2="76.2" y2="365.575" stroke="#333" stroke-width="0.8" />
<line x1="74.9" y1="337.825" x2="76.2" y2="337.825" stroke="#333" stroke-width="0.8" />
<line x1="74.9" y1="310.075" x2="76.2" y2="310.075" stroke="#333" stroke-width="0.8" />
<line x1="85.6" y1="365.6" x2="85.6" y2="367.6" stroke="#333" stroke-width="0.8" />
<text x="85.6" y="374.6" font-size="6" font-weight="bold" text-anchor="middle" fill="#000" textLength="8.5" lengthAdjust="spacingAndGlyphs" >0.4</text>
<line x1="122.6" y1="365.6" x2="122.6" y2="367.6" stroke="#333" stroke-width="0.8" />
<text x="122.6" y="374.6" font-size="6" font-weight="bold" text-anchor="middle" fill="#000" textLength="8.5" lengthAdjust="spacingAndGlyphs" >0.6</text>
<line x1="159.6" y1="365.6" x2="159.6" y2="367.6" stroke="#333" stroke-width="0.8" />
<text x="159.6" y="374.6" font-size="6" font-weight="bold" text-anchor="middle" fill="#000" textLength="8.5" lengthAdjust="spacingAndGlyphs" >0.8</text>
<line x1="104.1" y1="365.6" x2="104.1" y2="366.90000000000003" stroke="#333" stroke-width="0.8" />
<line x1="141.09999999999997" y1="365.6" x2="141.09999999999997" y2="366.90000000000003" stroke="#333" stroke-width="0.8" />
<line x1="178.1" y1="365.6" x2="178.1" y2="366.90000000000003" stroke="#333" stroke-width="0.8" />
<text x="81.9" y="306.6" font-size="20.5" font-weight="normal" text-anchor="start" fill="#000" textLength="24.8" lengthAdjust="spacingAndGlyphs" >(c)</text>
<polyline points="400.8,307.5 402.7,315.0 403.8,330.5 403.2,341.5 404.3,389.0 405.5,475.6 407.2,457.5 407.6,452.0 409.8,439.8 411.0,393.8 412.3,379.4 413.1,421.7 414.5,460.2 415.5,456.4 418.0,431.6 419.3,410.2 421.3,404.2 422.9,432.1 424.5,459.1 427.8,463.0 430.6,471.2 432.7,483.2 436.0,491.4 441.7,481.4 448.2,475.3 454.1,478.2 459.5,481.2 465.0,479.1 470.9,480.4 476.7,482.6 482.0,484.1 487.5,485.3 493.0,486.2 499.0,487.1 504.8,488.9 510.7,489.0 516.5,489.2 522.3,489.3 528.9,489.5 535.5,489.6 542.5,489.8 549.8,489.9 557.4,490.0 565.4,490.2 573.4,490.4 582.2,490.5 591.5,490.6 601.5,490.6 611.6,490.7 621.9,490.7 632.5,490.8 644.0,490.9 656.1,490.9 668.5,491.0" fill="none" stroke="#000" stroke-width="1.2" stroke-linejoin="round" stroke-linecap="round" />
<polyline points="400.5,346.3 402.5,342.0 403.2,363.5 404.3,392.3 406.5,445.5 408.1,445.8 409.8,415.7 412.2,399.2 413.0,442.0 414.7,481.6 415.8,476.1 419.6,437.0 420.7,427.7 422.9,448.8 424.5,477.7 428.9,477.7 432.7,487.6 436.0,490.3 441.7,485.5 448.2,484.3 454.1,485.6 459.5,486.9 465.0,486.0 470.9,486.0 476.7,487.0 482.0,487.8 487.5,488.6 493.0,489.2 499.0,489.6 504.8,490.0 510.7,490.4 516.5,490.8 522.3,491.0 528.9,491.0 535.5,491.1 542.5,491.1 549.8,491.2 557.4,491.2 565.4,491.2 573.4,491.3 582.2,491.3 591.5,491.4 601.5,491.4 611.6,491.5 621.9,491.5 632.5,491.6 644.0,491.7 656.1,491.7 668.5,491.8" fill="none" stroke="#8b0000" stroke-width="1.0" stroke-linejoin="round" stroke-linecap="round" />
<polyline points="400.5,401.0 401.2,447.0 402.1,456.4 403.8,465.2 405.9,481.6 406.5,488.1 409.0,475.0 411.4,466.3 413.0,480.0 415.2,490.3 418.5,472.0 421.3,478.3 423.4,482.7 425.6,488.1 428.9,490.3 432.0,491.5 436.0,492.0 441.7,491.4 448.2,490.1 454.1,490.4 459.5,490.9 465.0,491.1 470.9,491.3 476.7,491.4 482.0,491.5 487.5,491.5 493.0,491.6 499.0,491.6 504.8,491.6 510.7,491.6 516.5,491.7 522.3,491.7 528.9,491.7 535.5,491.7 542.5,491.8 549.8,491.8 557.4,491.8 565.4,491.9 573.4,491.9 582.2,491.9 591.5,492.0 601.5,492.0 611.6,492.1 621.9,492.1 632.5,492.1 644.0,492.2 656.1,492.2 668.5,492.3" fill="none" stroke="#1a1a80" stroke-width="1.0" stroke-linejoin="round" stroke-linecap="round" />
<path d="M400.5,398.0 L403.5,401.0 L400.5,404.0 L397.5,401.0Z" fill="#1818d2"/>
<path d="M401.2,444.0 L404.2,447.0 L401.2,450.0 L398.2,447.0Z" fill="#1818d2"/>
<path d="M402.1,453.4 L405.1,456.4 L402.1,459.4 L399.1,456.4Z" fill="#1818d2"/>
<path d="M403.8,462.2 L406.8,465.2 L403.8,468.2 L400.8,465.2Z" fill="#1818d2"/>
<path d="M405.9,478.6 L408.9,481.6 L405.9,484.6 L402.9,481.6Z" fill="#1818d2"/>
<path d="M406.5,485.1 L409.5,488.1 L406.5,491.1 L403.5,488.1Z" fill="#1818d2"/>
<path d="M409.0,472.0 L412.0,475.0 L409.0,478.0 L406.0,475.0Z" fill="#1818d2"/>
<path d="M411.4,463.3 L414.4,466.3 L411.4,469.3 L408.4,466.3Z" fill="#1818d2"/>
<path d="M413.0,477.0 L416.0,480.0 L413.0,483.0 L410.0,480.0Z" fill="#1818d2"/>
<path d="M415.2,487.3 L418.2,490.3 L415.2,493.3 L412.2,490.3Z" fill="#1818d2"/>
<path d="M418.5,469.0 L421.5,472.0 L418.5,475.0 L415.5,472.0Z" fill="#1818d2"/>
<path d="M421.3,475.3 L424.3,478.3 L421.3,481.3 L418.3,478.3Z" fill="#1818d2"/>
<path d="M423.4,479.7 L426.4,482.7 L423.4,485.7 L420.4,482.7Z" fill="#1818d2"/>
<path d="M425.6,485.1 L428.6,488.1 L425.6,491.1 L422.6,488.1Z" fill="#1818d2"/>
<path d="M428.9,487.3 L431.9,490.3 L428.9,493.3 L425.9,490.3Z" fill="#1818d2"/>
<path d="M432.0,488.5 L435.0,491.5 L432.0,494.5 L429.0,491.5Z" fill="#1818d2"/>
<path d="M436.0,489.0 L439.0,492.0 L436.0,495.0 L433.0,492.0Z" fill="#1818d2"/>
<path d="M441.7,488.4 L444.7,491.4 L441.7,494.4 L438.7,491.4Z" fill="#1818d2"/>
<path d="M448.2,487.1 L451.2,490.1 L448.2,493.1 L445.2,490.1Z" fill="#1818d2"/>
<path d="M454.1,487.4 L457.1,490.4 L454.1,493.4 L451.1,490.4Z" fill="#1818d2"/>
<path d="M459.5,487.9 L462.5,490.9 L459.5,493.9 L456.5,490.9Z" fill="#1818d2"/>
<path d="M465.0,488.1 L468.0,491.1 L465.0,494.1 L462.0,491.1Z" fill="#1818d2"/>
<path d="M470.9,488.3 L473.9,491.3 L470.9,494.3 L467.9,491.3Z" fill="#1818d2"/>
<path d="M476.7,488.4 L479.7,491.4 L476.7,494.4 L473.7,491.4Z" fill="#1818d2"/>
<path d="M482.0,488.5 L485.0,491.5 L482.0,494.5 L479.0,491.5Z" fill="#1818d2"/>
<path d="M487.5,488.5 L490.5,491.5 L487.5,494.5 L484.5,491.5Z" fill="#1818d2"/>
<path d="M493.0,488.6 L496.0,491.6 L493.0,494.6 L490.0,491.6Z" fill="#1818d2"/>
<path d="M499.0,488.6 L502.0,491.6 L499.0,494.6 L496.0,491.6Z" fill="#1818d2"/>
<path d="M504.8,488.6 L507.8,491.6 L504.8,494.6 L501.8,491.6Z" fill="#1818d2"/>
<path d="M510.7,488.6 L513.7,491.6 L510.7,494.6 L507.7,491.6Z" fill="#1818d2"/>
<path d="M516.5,488.7 L519.5,491.7 L516.5,494.7 L513.5,491.7Z" fill="#1818d2"/>
<path d="M522.3,488.7 L525.3,491.7 L522.3,494.7 L519.3,491.7Z" fill="#1818d2"/>
<path d="M528.9,488.7 L531.9,491.7 L528.9,494.7 L525.9,491.7Z" fill="#1818d2"/>
<path d="M535.5,488.7 L538.5,491.7 L535.5,494.7 L532.5,491.7Z" fill="#1818d2"/>
<path d="M542.5,488.8 L545.5,491.8 L542.5,494.8 L539.5,491.8Z" fill="#1818d2"/>
<path d="M549.8,488.8 L552.8,491.8 L549.8,494.8 L546.8,491.8Z" fill="#1818d2"/>
<path d="M557.4,488.8 L560.4,491.8 L557.4,494.8 L554.4,491.8Z" fill="#1818d2"/>
<path d="M565.4,488.9 L568.4,491.9 L565.4,494.9 L562.4,491.9Z" fill="#1818d2"/>
<path d="M573.4,488.9 L576.4,491.9 L573.4,494.9 L570.4,491.9Z" fill="#1818d2"/>
<path d="M582.2,488.9 L585.2,491.9 L582.2,494.9 L579.2,491.9Z" fill="#1818d2"/>
<path d="M591.5,489.0 L594.5,492.0 L591.5,495.0 L588.5,492.0Z" fill="#1818d2"/>
<path d="M601.5,489.0 L604.5,492.0 L601.5,495.0 L598.5,492.0Z" fill="#1818d2"/>
<path d="M611.6,489.1 L614.6,492.1 L611.6,495.1 L608.6,492.1Z" fill="#1818d2"/>
<path d="M621.9,489.1 L624.9,492.1 L621.9,495.1 L618.9,492.1Z" fill="#1818d2"/>
<path d="M632.5,489.1 L635.5,492.1 L632.5,495.1 L629.5,492.1Z" fill="#1818d2"/>
<path d="M644.0,489.2 L647.0,492.2 L644.0,495.2 L641.0,492.2Z" fill="#1818d2"/>
<path d="M656.1,489.2 L659.1,492.2 L656.1,495.2 L653.1,492.2Z" fill="#1818d2"/>
<path d="M668.5,489.3 L671.5,492.3 L668.5,495.3 L665.5,492.3Z" fill="#1818d2"/>
<circle cx="400.5" cy="346.3" r="2.4" fill="#dc1f1f" stroke="#dc1f1f" stroke-width="0.8"/>
<circle cx="402.5" cy="342.0" r="2.4" fill="#dc1f1f" stroke="#dc1f1f" stroke-width="0.8"/>
<circle cx="403.2" cy="363.5" r="2.4" fill="#dc1f1f" stroke="#dc1f1f" stroke-width="0.8"/>
<circle cx="404.3" cy="392.3" r="2.4" fill="#dc1f1f" stroke="#dc1f1f" stroke-width="0.8"/>
<circle cx="406.5" cy="445.5" r="2.4" fill="#dc1f1f" stroke="#dc1f1f" stroke-width="0.8"/>
<circle cx="408.1" cy="445.8" r="2.4" fill="#dc1f1f" stroke="#dc1f1f" stroke-width="0.8"/>
<circle cx="409.8" cy="415.7" r="2.4" fill="#dc1f1f" stroke="#dc1f1f" stroke-width="0.8"/>
<circle cx="412.2" cy="399.2" r="2.4" fill="#dc1f1f" stroke="#dc1f1f" stroke-width="0.8"/>
<circle cx="413.0" cy="442.0" r="2.4" fill="#dc1f1f" stroke="#dc1f1f" stroke-width="0.8"/>
<circle cx="414.7" cy="481.6" r="2.4" fill="#dc1f1f" stroke="#dc1f1f" stroke-width="0.8"/>
<circle cx="415.8" cy="476.1" r="2.4" fill="#dc1f1f" stroke="#dc1f1f" stroke-width="0.8"/>
<circle cx="419.6" cy="437.0" r="2.4" fill="#dc1f1f" stroke="#dc1f1f" stroke-width="0.8"/>
<circle cx="420.7" cy="427.7" r="2.4" fill="#dc1f1f" stroke="#dc1f1f" stroke-width="0.8"/>
<circle cx="422.9" cy="448.8" r="2.4" fill="#dc1f1f" stroke="#dc1f1f" stroke-width="0.8"/>
<circle cx="424.5" cy="477.7" r="2.4" fill="#dc1f1f" stroke="#dc1f1f" stroke-width="0.8"/>
<circle cx="428.9" cy="477.7" r="2.4" fill="#dc1f1f" stroke="#dc1f1f" stroke-width="0.8"/>
<circle cx="432.7" cy="487.6" r="2.4" fill="#dc1f1f" stroke="#dc1f1f" stroke-width="0.8"/>
<circle cx="436.0" cy="490.3" r="2.4" fill="#dc1f1f" stroke="#dc1f1f" stroke-width="0.8"/>
<circle cx="441.7" cy="485.5" r="2.4" fill="#dc1f1f" stroke="#dc1f1f" stroke-width="0.8"/>
<circle cx="448.2" cy="484.3" r="2.4" fill="#dc1f1f" stroke="#dc1f1f" stroke-width="0.8"/>
<circle cx="454.1" cy="485.6" r="2.4" fill="#dc1f1f" stroke="#dc1f1f" stroke-width="0.8"/>
<circle cx="459.5" cy="486.9" r="2.4" fill="#dc1f1f" stroke="#dc1f1f" stroke-width="0.8"/>
<circle cx="465.0" cy="486.0" r="2.4" fill="#dc1f1f" stroke="#dc1f1f" stroke-width="0.8"/>
<circle cx="470.9" cy="486.0" r="2.4" fill="#dc1f1f" stroke="#dc1f1f" stroke-width="0.8"/>
<circle cx="476.7" cy="487.0" r="2.4" fill="#dc1f1f" stroke="#dc1f1f" stroke-width="0.8"/>
<circle cx="482.0" cy="487.8" r="2.4" fill="#dc1f1f" stroke="#dc1f1f" stroke-width="0.8"/>
<circle cx="487.5" cy="488.6" r="2.4" fill="#dc1f1f" stroke="#dc1f1f" stroke-width="0.8"/>
<circle cx="493.0" cy="489.2" r="2.4" fill="#dc1f1f" stroke="#dc1f1f" stroke-width="0.8"/>
<circle cx="499.0" cy="489.6" r="2.4" fill="#dc1f1f" stroke="#dc1f1f" stroke-width="0.8"/>
<circle cx="504.8" cy="490.0" r="2.4" fill="#dc1f1f" stroke="#dc1f1f" stroke-width="0.8"/>
<circle cx="510.7" cy="490.4" r="2.4" fill="#dc1f1f" stroke="#dc1f1f" stroke-width="0.8"/>
<circle cx="516.5" cy="490.8" r="2.4" fill="#dc1f1f" stroke="#dc1f1f" stroke-width="0.8"/>
<circle cx="522.3" cy="491.0" r="2.4" fill="#dc1f1f" stroke="#dc1f1f" stroke-width="0.8"/>
<circle cx="528.9" cy="491.0" r="2.4" fill="#dc1f1f" stroke="#dc1f1f" stroke-width="0.8"/>
<circle cx="535.5" cy="491.1" r="2.4" fill="#dc1f1f" stroke="#dc1f1f" stroke-width="0.8"/>
<circle cx="542.5" cy="491.1" r="2.4" fill="#dc1f1f" stroke="#dc1f1f" stroke-width="0.8"/>
<circle cx="549.8" cy="491.2" r="2.4" fill="#dc1f1f" stroke="#dc1f1f" stroke-width="0.8"/>
<circle cx="557.4" cy="491.2" r="2.4" fill="#dc1f1f" stroke="#dc1f1f" stroke-width="0.8"/>
<circle cx="565.4" cy="491.2" r="2.4" fill="#dc1f1f" stroke="#dc1f1f" stroke-width="0.8"/>
<circle cx="573.4" cy="491.3" r="2.4" fill="#dc1f1f" stroke="#dc1f1f" stroke-width="0.8"/>
<circle cx="582.2" cy="491.3" r="2.4" fill="#dc1f1f" stroke="#dc1f1f" stroke-width="0.8"/>
<circle cx="591.5" cy="491.4" r="2.4" fill="#dc1f1f" stroke="#dc1f1f" stroke-width="0.8"/>
<circle cx="601.5" cy="491.4" r="2.4" fill="#dc1f1f" stroke="#dc1f1f" stroke-width="0.8"/>
<circle cx="611.6" cy="491.5" r="2.4" fill="#dc1f1f" stroke="#dc1f1f" stroke-width="0.8"/>
<circle cx="621.9" cy="491.5" r="2.4" fill="#dc1f1f" stroke="#dc1f1f" stroke-width="0.8"/>
<circle cx="632.5" cy="491.6" r="2.4" fill="#dc1f1f" stroke="#dc1f1f" stroke-width="0.8"/>
<circle cx="644.0" cy="491.7" r="2.4" fill="#dc1f1f" stroke="#dc1f1f" stroke-width="0.8"/>
<circle cx="656.1" cy="491.7" r="2.4" fill="#dc1f1f" stroke="#dc1f1f" stroke-width="0.8"/>
<circle cx="668.5" cy="491.8" r="2.4" fill="#dc1f1f" stroke="#dc1f1f" stroke-width="0.8"/>
<rect x="398.5" y="305.2" width="4.6" height="4.6" fill="#000"/>
<rect x="400.4" y="312.7" width="4.6" height="4.6" fill="#000"/>
<rect x="401.5" y="328.2" width="4.6" height="4.6" fill="#000"/>
<rect x="400.9" y="339.2" width="4.6" height="4.6" fill="#000"/>
<rect x="402.0" y="386.7" width="4.6" height="4.6" fill="#000"/>
<rect x="403.2" y="473.3" width="4.6" height="4.6" fill="#000"/>
<rect x="404.9" y="455.2" width="4.6" height="4.6" fill="#000"/>
<rect x="405.3" y="449.7" width="4.6" height="4.6" fill="#000"/>
<rect x="407.5" y="437.5" width="4.6" height="4.6" fill="#000"/>
<rect x="408.7" y="391.5" width="4.6" height="4.6" fill="#000"/>
<rect x="410.0" y="377.1" width="4.6" height="4.6" fill="#000"/>
<rect x="410.8" y="419.4" width="4.6" height="4.6" fill="#000"/>
<rect x="412.2" y="457.9" width="4.6" height="4.6" fill="#000"/>
<rect x="413.2" y="454.1" width="4.6" height="4.6" fill="#000"/>
<rect x="415.7" y="429.3" width="4.6" height="4.6" fill="#000"/>
<rect x="417.0" y="407.9" width="4.6" height="4.6" fill="#000"/>
<rect x="419.0" y="401.9" width="4.6" height="4.6" fill="#000"/>
<rect x="420.6" y="429.8" width="4.6" height="4.6" fill="#000"/>
<rect x="422.2" y="456.8" width="4.6" height="4.6" fill="#000"/>
<rect x="425.5" y="460.7" width="4.6" height="4.6" fill="#000"/>
<rect x="428.3" y="468.9" width="4.6" height="4.6" fill="#000"/>
<rect x="430.4" y="480.9" width="4.6" height="4.6" fill="#000"/>
<rect x="433.7" y="489.1" width="4.6" height="4.6" fill="#000"/>
<rect x="439.4" y="479.1" width="4.6" height="4.6" fill="#000"/>
<rect x="445.9" y="473.0" width="4.6" height="4.6" fill="#000"/>
<rect x="451.8" y="475.9" width="4.6" height="4.6" fill="#000"/>
<rect x="457.2" y="478.9" width="4.6" height="4.6" fill="#000"/>
<rect x="462.7" y="476.8" width="4.6" height="4.6" fill="#000"/>
<rect x="468.6" y="478.1" width="4.6" height="4.6" fill="#000"/>
<rect x="474.4" y="480.3" width="4.6" height="4.6" fill="#000"/>
<rect x="479.7" y="481.8" width="4.6" height="4.6" fill="#000"/>
<rect x="485.2" y="483.0" width="4.6" height="4.6" fill="#000"/>
<rect x="490.7" y="483.9" width="4.6" height="4.6" fill="#000"/>
<rect x="496.7" y="484.8" width="4.6" height="4.6" fill="#000"/>
<rect x="502.5" y="486.6" width="4.6" height="4.6" fill="#000"/>
<rect x="508.4" y="486.7" width="4.6" height="4.6" fill="#000"/>
<rect x="514.2" y="486.9" width="4.6" height="4.6" fill="#000"/>
<rect x="520.0" y="487.0" width="4.6" height="4.6" fill="#000"/>
<rect x="526.6" y="487.2" width="4.6" height="4.6" fill="#000"/>
<rect x="533.2" y="487.3" width="4.6" height="4.6" fill="#000"/>
<rect x="540.2" y="487.4" width="4.6" height="4.6" fill="#000"/>
<rect x="547.5" y="487.6" width="4.6" height="4.6" fill="#000"/>
<rect x="555.1" y="487.7" width="4.6" height="4.6" fill="#000"/>
<rect x="563.1" y="487.9" width="4.6" height="4.6" fill="#000"/>
<rect x="571.1" y="488.1" width="4.6" height="4.6" fill="#000"/>
<rect x="579.9" y="488.2" width="4.6" height="4.6" fill="#000"/>
<rect x="589.2" y="488.3" width="4.6" height="4.6" fill="#000"/>
<rect x="599.2" y="488.3" width="4.6" height="4.6" fill="#000"/>
<rect x="609.3" y="488.4" width="4.6" height="4.6" fill="#000"/>
<rect x="619.6" y="488.4" width="4.6" height="4.6" fill="#000"/>
<rect x="630.2" y="488.5" width="4.6" height="4.6" fill="#000"/>
<rect x="641.7" y="488.6" width="4.6" height="4.6" fill="#000"/>
<rect x="653.8" y="488.6" width="4.6" height="4.6" fill="#000"/>
<rect x="666.2" y="488.7" width="4.6" height="4.6" fill="#000"/>
<rect x="481.8" y="475.1" width="191.99999999999994" height="22.69999999999999" fill="none" stroke="#dc1f1f" stroke-width="2"/>
<line x1="589.8" y1="474.6" x2="589.8" y2="455" stroke="#dc1f1f" stroke-width="2" />
<path d="M586.3,457 L589.8,449 L593.3,457 Z" fill="#dc1f1f"/>
<path d="M396.0,278.3 H676.5 V506.0 H396.0 Z" fill="none" stroke="#000" stroke-width="1.9"/>
<line x1="390.5" y1="492.1" x2="396.0" y2="492.1" stroke="#000" stroke-width="1.5" />
<text x="388.6" y="496.70000000000005" font-size="13.3" font-weight="bold" text-anchor="end" fill="#000" >0.0</text>
<line x1="390.5" y1="456.40000000000003" x2="396.0" y2="456.40000000000003" stroke="#000" stroke-width="1.5" />
<text x="388.6" y="461.00000000000006" font-size="13.3" font-weight="bold" text-anchor="end" fill="#000" >0.5</text>
<line x1="390.5" y1="420.70000000000005" x2="396.0" y2="420.70000000000005" stroke="#000" stroke-width="1.5" />
<text x="388.6" y="425.30000000000007" font-size="13.3" font-weight="bold" text-anchor="end" fill="#000" >1.0</text>
<line x1="390.5" y1="385.0" x2="396.0" y2="385.0" stroke="#000" stroke-width="1.5" />
<text x="388.6" y="389.6" font-size="13.3" font-weight="bold" text-anchor="end" fill="#000" >1.5</text>
<line x1="390.5" y1="349.3" x2="396.0" y2="349.3" stroke="#000" stroke-width="1.5" />
<text x="388.6" y="353.90000000000003" font-size="13.3" font-weight="bold" text-anchor="end" fill="#000" >2.0</text>
<line x1="390.5" y1="313.6" x2="396.0" y2="313.6" stroke="#000" stroke-width="1.5" />
<text x="388.6" y="318.20000000000005" font-size="13.3" font-weight="bold" text-anchor="end" fill="#000" >2.5</text>
<line x1="390.5" y1="277.9" x2="396.0" y2="277.9" stroke="#000" stroke-width="1.5" />
<text x="388.6" y="282.5" font-size="13.3" font-weight="bold" text-anchor="end" fill="#000" >3.0</text>
<line x1="393.0" y1="474.25" x2="396.0" y2="474.25" stroke="#000" stroke-width="1.5" />
<line x1="393.0" y1="438.55" x2="396.0" y2="438.55" stroke="#000" stroke-width="1.5" />
<line x1="393.0" y1="402.85" x2="396.0" y2="402.85" stroke="#000" stroke-width="1.5" />
<line x1="393.0" y1="367.15" x2="396.0" y2="367.15" stroke="#000" stroke-width="1.5" />
<line x1="393.0" y1="331.45000000000005" x2="396.0" y2="331.45000000000005" stroke="#000" stroke-width="1.5" />
<line x1="393.0" y1="295.75" x2="396.0" y2="295.75" stroke="#000" stroke-width="1.5" />
<line x1="396.0" y1="506.0" x2="396.0" y2="509.0" stroke="#000" stroke-width="1.5" />
<line x1="407.7" y1="506.0" x2="407.7" y2="511.5" stroke="#000" stroke-width="1.5" />
<text x="408.09999999999997" y="524.6" font-size="13.5" font-weight="bold" text-anchor="middle" fill="#000" >0.5</text>
<line x1="432.2" y1="506.0" x2="432.2" y2="511.5" stroke="#000" stroke-width="1.5" />
<text x="432.59999999999997" y="524.6" font-size="13.5" font-weight="bold" text-anchor="middle" fill="#000" >1.0</text>
<line x1="456.7" y1="506.0" x2="456.7" y2="511.5" stroke="#000" stroke-width="1.5" />
<text x="457.09999999999997" y="524.6" font-size="13.5" font-weight="bold" text-anchor="middle" fill="#000" >1.5</text>
<line x1="481.2" y1="506.0" x2="481.2" y2="511.5" stroke="#000" stroke-width="1.5" />
<text x="481.59999999999997" y="524.6" font-size="13.5" font-weight="bold" text-anchor="middle" fill="#000" >2.0</text>
<line x1="505.7" y1="506.0" x2="505.7" y2="511.5" stroke="#000" stroke-width="1.5" />
<text x="506.09999999999997" y="524.6" font-size="13.5" font-weight="bold" text-anchor="middle" fill="#000" >2.5</text>
<line x1="530.2" y1="506.0" x2="530.2" y2="511.5" stroke="#000" stroke-width="1.5" />
<text x="530.6" y="524.6" font-size="13.5" font-weight="bold" text-anchor="middle" fill="#000" >3.0</text>
<line x1="554.7" y1="506.0" x2="554.7" y2="511.5" stroke="#000" stroke-width="1.5" />
<text x="555.1" y="524.6" font-size="13.5" font-weight="bold" text-anchor="middle" fill="#000" >3.5</text>
<line x1="579.2" y1="506.0" x2="579.2" y2="511.5" stroke="#000" stroke-width="1.5" />
<text x="579.6" y="524.6" font-size="13.5" font-weight="bold" text-anchor="middle" fill="#000" >4.0</text>
<line x1="603.7" y1="506.0" x2="603.7" y2="511.5" stroke="#000" stroke-width="1.5" />
<text x="604.1" y="524.6" font-size="13.5" font-weight="bold" text-anchor="middle" fill="#000" >4.5</text>
<line x1="628.2" y1="506.0" x2="628.2" y2="511.5" stroke="#000" stroke-width="1.5" />
<text x="628.6" y="524.6" font-size="13.5" font-weight="bold" text-anchor="middle" fill="#000" >5.0</text>
<line x1="652.7" y1="506.0" x2="652.7" y2="511.5" stroke="#000" stroke-width="1.5" />
<text x="653.1" y="524.6" font-size="13.5" font-weight="bold" text-anchor="middle" fill="#000" >5.5</text>
<line x1="677.2" y1="506.0" x2="677.2" y2="511.5" stroke="#000" stroke-width="1.5" />
<text x="677.6" y="524.6" font-size="13.5" font-weight="bold" text-anchor="middle" fill="#000" >6.0</text>
<line x1="419.95" y1="506.0" x2="419.95" y2="509.5" stroke="#000" stroke-width="1.5" />
<line x1="444.45" y1="506.0" x2="444.45" y2="509.5" stroke="#000" stroke-width="1.5" />
<line x1="468.95" y1="506.0" x2="468.95" y2="509.5" stroke="#000" stroke-width="1.5" />
<line x1="493.45" y1="506.0" x2="493.45" y2="509.5" stroke="#000" stroke-width="1.5" />
<line x1="517.95" y1="506.0" x2="517.95" y2="509.5" stroke="#000" stroke-width="1.5" />
<line x1="542.45" y1="506.0" x2="542.45" y2="509.5" stroke="#000" stroke-width="1.5" />
<line x1="566.95" y1="506.0" x2="566.95" y2="509.5" stroke="#000" stroke-width="1.5" />
<line x1="591.45" y1="506.0" x2="591.45" y2="509.5" stroke="#000" stroke-width="1.5" />
<line x1="615.95" y1="506.0" x2="615.95" y2="509.5" stroke="#000" stroke-width="1.5" />
<line x1="640.45" y1="506.0" x2="640.45" y2="509.5" stroke="#000" stroke-width="1.5" />
<line x1="664.95" y1="506.0" x2="664.95" y2="509.5" stroke="#000" stroke-width="1.5" />
<text x="453.2" y="543" font-size="23" font-weight="bold" text-anchor="start" fill="#000" textLength="187" lengthAdjust="spacingAndGlyphs" >Pore diameter (nm)</text>
<text transform="translate(362.4,522.4) rotate(-90)" font-size="23" font-weight="bold" textLength="228" lengthAdjust="spacingAndGlyphs">dV/dr (cc g<tspan font-size="13" dy="-10">-1</tspan><tspan dy="10"> nm</tspan><tspan font-size="13" dy="-10">-1</tspan><tspan dy="10">) DFT</tspan></text>
<text x="398.9" y="298.6" font-size="20.5" font-weight="normal" text-anchor="start" fill="#000" textLength="26" lengthAdjust="spacingAndGlyphs" >(d)</text>
<rect x="497.6" y="286.3" width="168.89999999999998" height="137.0" fill="#fff" stroke="#000" stroke-width="1.2"/>
<polyline points="497.8,303.0 500.8,296.4 504.4,316.5 509.0,317.4 513.5,329.5 518.0,364.2 522.7,367.2 527.6,358.0 533.4,358.0 539.0,381.2 544.2,380.0 550.4,394.7 557.0,389.9 563.6,387.3 570.6,387.3 577.7,388.2 585.5,396.4 592.8,403.4 601.6,404.1 609.6,405.9 619.3,411.4 628.4,411.0 638.5,409.2 648.9,411.9 659.5,413.8 666.4,414.1" fill="none" stroke="#111" stroke-width="0.9" stroke-linejoin="round" stroke-linecap="round" />
<polyline points="497.8,374.2 501.0,380.6 504.8,389.1 509.2,389.9 513.6,392.2 518.0,400.4 522.7,401.3 527.6,402.7 533.4,404.5 539.0,411.0 544.8,410.1 550.4,415.3 557.0,413.2 563.6,412.8 570.6,412.8 577.7,412.8 585.5,414.7 592.8,416.5 601.6,416.5 609.6,416.9 619.3,418.0 628.4,418.0 638.5,418.0 648.9,418.4 659.5,418.4 666.4,418.6" fill="none" stroke="#dc1f1f" stroke-width="0.9" stroke-linejoin="round" stroke-linecap="round" />
<polyline points="497.8,391.7 501.0,406.2 504.8,411.0 509.2,411.0 513.6,412.7 518.0,415.0 522.7,415.3 527.6,415.7 533.4,416.7 539.0,418.5 544.8,418.5 550.4,419.5 557.0,419.3 563.6,418.9 570.6,418.9 577.7,418.9 585.5,420.4 592.8,421.5 601.6,421.5 609.6,421.5 619.3,421.8 628.4,421.8 638.5,421.8 648.9,422.0 659.5,422.0 666.4,422.0" fill="none" stroke="#1818d2" stroke-width="0.9" stroke-linejoin="round" stroke-linecap="round" />
<rect x="499.5" y="295.1" width="2.6" height="2.6" fill="#000"/>
<rect x="503.1" y="315.2" width="2.6" height="2.6" fill="#000"/>
<rect x="507.7" y="316.1" width="2.6" height="2.6" fill="#000"/>
<rect x="512.2" y="328.2" width="2.6" height="2.6" fill="#000"/>
<rect x="516.7" y="362.9" width="2.6" height="2.6" fill="#000"/>
<rect x="521.4" y="365.9" width="2.6" height="2.6" fill="#000"/>
<rect x="526.3" y="356.7" width="2.6" height="2.6" fill="#000"/>
<rect x="532.1" y="356.7" width="2.6" height="2.6" fill="#000"/>
<rect x="537.7" y="379.9" width="2.6" height="2.6" fill="#000"/>
<rect x="542.9" y="378.7" width="2.6" height="2.6" fill="#000"/>
<rect x="549.1" y="393.4" width="2.6" height="2.6" fill="#000"/>
<rect x="555.7" y="388.6" width="2.6" height="2.6" fill="#000"/>
<rect x="562.3" y="386.0" width="2.6" height="2.6" fill="#000"/>
<rect x="569.3" y="386.0" width="2.6" height="2.6" fill="#000"/>
<rect x="576.4" y="386.9" width="2.6" height="2.6" fill="#000"/>
<rect x="584.2" y="395.1" width="2.6" height="2.6" fill="#000"/>
<rect x="591.5" y="402.1" width="2.6" height="2.6" fill="#000"/>
<rect x="600.3" y="402.8" width="2.6" height="2.6" fill="#000"/>
<rect x="608.3" y="404.6" width="2.6" height="2.6" fill="#000"/>
<rect x="618.0" y="410.1" width="2.6" height="2.6" fill="#000"/>
<rect x="627.1" y="409.7" width="2.6" height="2.6" fill="#000"/>
<rect x="637.2" y="407.9" width="2.6" height="2.6" fill="#000"/>
<rect x="647.6" y="410.6" width="2.6" height="2.6" fill="#000"/>
<rect x="658.2" y="412.5" width="2.6" height="2.6" fill="#000"/>
<rect x="665.1" y="412.8" width="2.6" height="2.6" fill="#000"/>
<circle cx="501.0" cy="380.6" r="1.4" fill="#dc1f1f" stroke="#dc1f1f" stroke-width="0.8"/>
<circle cx="504.8" cy="389.1" r="1.4" fill="#dc1f1f" stroke="#dc1f1f" stroke-width="0.8"/>
<circle cx="509.2" cy="389.9" r="1.4" fill="#dc1f1f" stroke="#dc1f1f" stroke-width="0.8"/>
<circle cx="513.6" cy="392.2" r="1.4" fill="#dc1f1f" stroke="#dc1f1f" stroke-width="0.8"/>
<circle cx="518.0" cy="400.4" r="1.4" fill="#dc1f1f" stroke="#dc1f1f" stroke-width="0.8"/>
<circle cx="522.7" cy="401.3" r="1.4" fill="#dc1f1f" stroke="#dc1f1f" stroke-width="0.8"/>
<circle cx="527.6" cy="402.7" r="1.4" fill="#dc1f1f" stroke="#dc1f1f" stroke-width="0.8"/>
<circle cx="533.4" cy="404.5" r="1.4" fill="#dc1f1f" stroke="#dc1f1f" stroke-width="0.8"/>
<circle cx="539.0" cy="411.0" r="1.4" fill="#dc1f1f" stroke="#dc1f1f" stroke-width="0.8"/>
<circle cx="544.8" cy="410.1" r="1.4" fill="#dc1f1f" stroke="#dc1f1f" stroke-width="0.8"/>
<circle cx="550.4" cy="415.3" r="1.4" fill="#dc1f1f" stroke="#dc1f1f" stroke-width="0.8"/>
<circle cx="557.0" cy="413.2" r="1.4" fill="#dc1f1f" stroke="#dc1f1f" stroke-width="0.8"/>
<circle cx="563.6" cy="412.8" r="1.4" fill="#dc1f1f" stroke="#dc1f1f" stroke-width="0.8"/>
<circle cx="570.6" cy="412.8" r="1.4" fill="#dc1f1f" stroke="#dc1f1f" stroke-width="0.8"/>
<circle cx="577.7" cy="412.8" r="1.4" fill="#dc1f1f" stroke="#dc1f1f" stroke-width="0.8"/>
<circle cx="585.5" cy="414.7" r="1.4" fill="#dc1f1f" stroke="#dc1f1f" stroke-width="0.8"/>
<circle cx="592.8" cy="416.5" r="1.4" fill="#dc1f1f" stroke="#dc1f1f" stroke-width="0.8"/>
<circle cx="601.6" cy="416.5" r="1.4" fill="#dc1f1f" stroke="#dc1f1f" stroke-width="0.8"/>
<circle cx="609.6" cy="416.9" r="1.4" fill="#dc1f1f" stroke="#dc1f1f" stroke-width="0.8"/>
<circle cx="619.3" cy="418.0" r="1.4" fill="#dc1f1f" stroke="#dc1f1f" stroke-width="0.8"/>
<circle cx="628.4" cy="418.0" r="1.4" fill="#dc1f1f" stroke="#dc1f1f" stroke-width="0.8"/>
<circle cx="638.5" cy="418.0" r="1.4" fill="#dc1f1f" stroke="#dc1f1f" stroke-width="0.8"/>
<circle cx="648.9" cy="418.4" r="1.4" fill="#dc1f1f" stroke="#dc1f1f" stroke-width="0.8"/>
<circle cx="659.5" cy="418.4" r="1.4" fill="#dc1f1f" stroke="#dc1f1f" stroke-width="0.8"/>
<circle cx="666.4" cy="418.6" r="1.4" fill="#dc1f1f" stroke="#dc1f1f" stroke-width="0.8"/>
<path d="M501.0,404.5 L502.7,406.2 L501.0,407.9 L499.3,406.2Z" fill="#1818d2"/>
<path d="M504.8,409.3 L506.5,411.0 L504.8,412.7 L503.1,411.0Z" fill="#1818d2"/>
<path d="M509.2,409.3 L510.9,411.0 L509.2,412.7 L507.5,411.0Z" fill="#1818d2"/>
<path d="M513.6,411.0 L515.3,412.7 L513.6,414.4 L511.9,412.7Z" fill="#1818d2"/>
<path d="M518.0,413.3 L519.7,415.0 L518.0,416.7 L516.3,415.0Z" fill="#1818d2"/>
<path d="M522.7,413.6 L524.4,415.3 L522.7,417.0 L521.0,415.3Z" fill="#1818d2"/>
<path d="M527.6,414.0 L529.3,415.7 L527.6,417.4 L525.9,415.7Z" fill="#1818d2"/>
<path d="M533.4,415.0 L535.1,416.7 L533.4,418.4 L531.7,416.7Z" fill="#1818d2"/>
<path d="M539.0,416.8 L540.7,418.5 L539.0,420.2 L537.3,418.5Z" fill="#1818d2"/>
<path d="M544.8,416.8 L546.5,418.5 L544.8,420.2 L543.1,418.5Z" fill="#1818d2"/>
<path d="M550.4,417.8 L552.1,419.5 L550.4,421.2 L548.7,419.5Z" fill="#1818d2"/>
<path d="M557.0,417.6 L558.7,419.3 L557.0,421.0 L555.3,419.3Z" fill="#1818d2"/>
<path d="M563.6,417.2 L565.3,418.9 L563.6,420.6 L561.9,418.9Z" fill="#1818d2"/>
<path d="M570.6,417.2 L572.3,418.9 L570.6,420.6 L568.9,418.9Z" fill="#1818d2"/>
<path d="M577.7,417.2 L579.4,418.9 L577.7,420.6 L576.0,418.9Z" fill="#1818d2"/>
<path d="M585.5,418.7 L587.2,420.4 L585.5,422.1 L583.8,420.4Z" fill="#1818d2"/>
<path d="M592.8,419.8 L594.5,421.5 L592.8,423.2 L591.1,421.5Z" fill="#1818d2"/>
<path d="M601.6,419.8 L603.3,421.5 L601.6,423.2 L599.9,421.5Z" fill="#1818d2"/>
<path d="M609.6,419.8 L611.3,421.5 L609.6,423.2 L607.9,421.5Z" fill="#1818d2"/>
<path d="M619.3,420.1 L621.0,421.8 L619.3,423.5 L617.6,421.8Z" fill="#1818d2"/>
<path d="M628.4,420.1 L630.1,421.8 L628.4,423.5 L626.7,421.8Z" fill="#1818d2"/>
<path d="M638.5,420.1 L640.2,421.8 L638.5,423.5 L636.8,421.8Z" fill="#1818d2"/>
<path d="M648.9,420.3 L650.6,422.0 L648.9,423.7 L647.2,422.0Z" fill="#1818d2"/>
<path d="M659.5,420.3 L661.2,422.0 L659.5,423.7 L657.8,422.0Z" fill="#1818d2"/>
<path d="M666.4,420.3 L668.1,422.0 L666.4,423.7 L664.7,422.0Z" fill="#1818d2"/>
<rect x="497.6" y="286.3" width="168.89999999999998" height="137.0" fill="none" stroke="#000" stroke-width="1.2"/>
<line x1="495.0" y1="423.3" x2="497.6" y2="423.3" stroke="#000" stroke-width="1" />
<text x="492.6" y="426.6" font-size="9.5" font-weight="bold" text-anchor="end" fill="#000" >0.00</text>
<line x1="495.0" y1="398.05" x2="497.6" y2="398.05" stroke="#000" stroke-width="1" />
<text x="492.6" y="401.35" font-size="9.5" font-weight="bold" text-anchor="end" fill="#000" >0.02</text>
<line x1="495.0" y1="372.8" x2="497.6" y2="372.8" stroke="#000" stroke-width="1" />
<text x="492.6" y="376.1" font-size="9.5" font-weight="bold" text-anchor="end" fill="#000" >0.04</text>
<line x1="495.0" y1="347.55" x2="497.6" y2="347.55" stroke="#000" stroke-width="1" />
<text x="492.6" y="350.85" font-size="9.5" font-weight="bold" text-anchor="end" fill="#000" >0.06</text>
<line x1="495.0" y1="322.3" x2="497.6" y2="322.3" stroke="#000" stroke-width="1" />
<text x="492.6" y="325.6" font-size="9.5" font-weight="bold" text-anchor="end" fill="#000" >0.08</text>
<line x1="495.0" y1="297.05" x2="497.6" y2="297.05" stroke="#000" stroke-width="1" />
<text x="492.6" y="300.35" font-size="9.5" font-weight="bold" text-anchor="end" fill="#000" >0.10</text>
<line x1="496.1" y1="410.675" x2="497.6" y2="410.675" stroke="#000" stroke-width="1" />
<line x1="496.1" y1="385.425" x2="497.6" y2="385.425" stroke="#000" stroke-width="1" />
<line x1="496.1" y1="360.175" x2="497.6" y2="360.175" stroke="#000" stroke-width="1" />
<line x1="496.1" y1="334.925" x2="497.6" y2="334.925" stroke="#000" stroke-width="1" />
<line x1="496.1" y1="309.675" x2="497.6" y2="309.675" stroke="#000" stroke-width="1" />
<line x1="497.8" y1="423.3" x2="497.8" y2="425.90000000000003" stroke="#000" stroke-width="1" />
<text x="497.8" y="435.3" font-size="9.5" font-weight="bold" text-anchor="middle" fill="#000" >2.0</text>
<line x1="518.875" y1="423.3" x2="518.875" y2="425.90000000000003" stroke="#000" stroke-width="1" />
<text x="518.875" y="435.3" font-size="9.5" font-weight="bold" text-anchor="middle" fill="#000" >2.5</text>
<line x1="539.95" y1="423.3" x2="539.95" y2="425.90000000000003" stroke="#000" stroke-width="1" />
<text x="539.95" y="435.3" font-size="9.5" font-weight="bold" text-anchor="middle" fill="#000" >3.0</text>
<line x1="561.025" y1="423.3" x2="561.025" y2="425.90000000000003" stroke="#000" stroke-width="1" />
<text x="561.025" y="435.3" font-size="9.5" font-weight="bold" text-anchor="middle" fill="#000" >3.5</text>
<line x1="582.1" y1="423.3" x2="582.1" y2="425.90000000000003" stroke="#000" stroke-width="1" />
<text x="582.1" y="435.3" font-size="9.5" font-weight="bold" text-anchor="middle" fill="#000" >4.0</text>
<line x1="603.175" y1="423.3" x2="603.175" y2="425.90000000000003" stroke="#000" stroke-width="1" />
<text x="603.175" y="435.3" font-size="9.5" font-weight="bold" text-anchor="middle" fill="#000" >4.5</text>
<line x1="624.25" y1="423.3" x2="624.25" y2="425.90000000000003" stroke="#000" stroke-width="1" />
<text x="624.25" y="435.3" font-size="9.5" font-weight="bold" text-anchor="middle" fill="#000" >5.0</text>
<line x1="645.325" y1="423.3" x2="645.325" y2="425.90000000000003" stroke="#000" stroke-width="1" />
<text x="645.325" y="435.3" font-size="9.5" font-weight="bold" text-anchor="middle" fill="#000" >5.5</text>
<line x1="666.4" y1="423.3" x2="666.4" y2="425.90000000000003" stroke="#000" stroke-width="1" />
<text x="666.4" y="435.3" font-size="9.5" font-weight="bold" text-anchor="middle" fill="#000" >6.0</text>
<line x1="508.33750000000003" y1="423.3" x2="508.33750000000003" y2="424.8" stroke="#000" stroke-width="1" />
<line x1="529.4125" y1="423.3" x2="529.4125" y2="424.8" stroke="#000" stroke-width="1" />
<line x1="550.4875" y1="423.3" x2="550.4875" y2="424.8" stroke="#000" stroke-width="1" />
<line x1="571.5625" y1="423.3" x2="571.5625" y2="424.8" stroke="#000" stroke-width="1" />
<line x1="592.6375" y1="423.3" x2="592.6375" y2="424.8" stroke="#000" stroke-width="1" />
<line x1="613.7125" y1="423.3" x2="613.7125" y2="424.8" stroke="#000" stroke-width="1" />
<line x1="634.7875" y1="423.3" x2="634.7875" y2="424.8" stroke="#000" stroke-width="1" />
<line x1="655.8625" y1="423.3" x2="655.8625" y2="424.8" stroke="#000" stroke-width="1" />
<text x="496.4" y="448.9" font-size="20" font-weight="bold" text-anchor="start" fill="#000" textLength="173" lengthAdjust="spacingAndGlyphs" >Pore diameter (nm)</text>
<text transform="translate(472.2,440.6) rotate(-90)" font-size="21" font-weight="bold" textLength="159.5" lengthAdjust="spacingAndGlyphs">dV/dr (cc g<tspan font-size="12" dy="-9">-1</tspan><tspan dy="9"> nm</tspan><tspan font-size="12" dy="-9">-1</tspan><tspan dy="9">)</tspan></text>
<line x1="609.3" y1="295.4" x2="623.6" y2="295.4" stroke="#000" stroke-width="1" />
<rect x="615.3" y="294.0" width="2.8" height="2.8" fill="#000"/>
<text x="626.7" y="298.79999999999995" font-size="10" font-weight="bold" text-anchor="start" fill="#000" >PS-FLG</text>
<line x1="609.3" y1="307.8" x2="623.6" y2="307.8" stroke="#dc1f1f" stroke-width="1" />
<circle cx="616.7" cy="307.8" r="1.5" fill="#dc1f1f" stroke="#dc1f1f" stroke-width="0.8"/>
<text x="626.7" y="311.2" font-size="10" font-weight="bold" text-anchor="start" fill="#dc1f1f" >PS-AC</text>
<line x1="609.3" y1="320.2" x2="623.6" y2="320.2" stroke="#1818d2" stroke-width="1" />
<path d="M616.7,318.4 L618.5,320.2 L616.7,322.0 L614.9,320.2Z" fill="#1818d2"/>
<text x="626.7" y="323.59999999999997" font-size="10" font-weight="bold" text-anchor="start" fill="#1818d2" >PS-C</text>
</svg>
</body></html>
